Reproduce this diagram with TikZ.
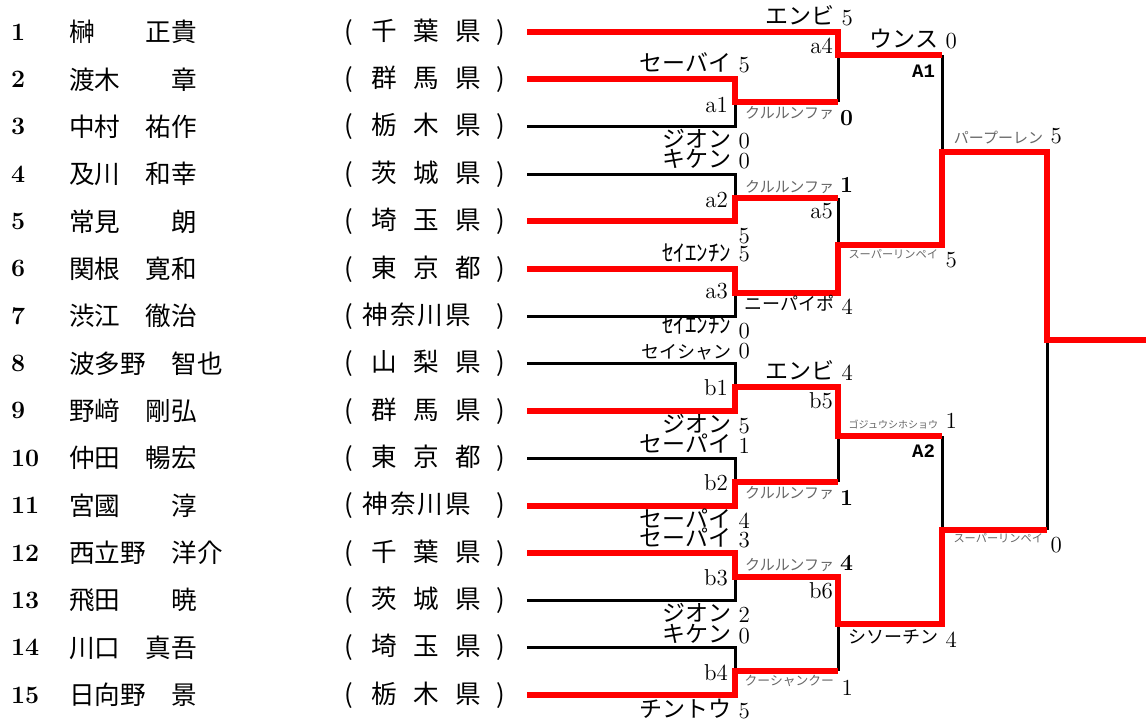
\documentclass[tikz,border=0pt]{standalone}
\usepackage{fontspec}
\usepackage{tikz}
\newfontfamily\jp{Noto Sans CJK JP}
\newfontfamily\mono{Liberation Mono}

\begin{document}
\begin{tikzpicture}[x=0.5pt, y=-0.5pt, every node/.style={inner sep=0pt, outer sep=0pt},
  win/.style={draw=red, line width=3pt},
  lose/.style={draw=black, line width=1.5pt},
  num/.style={anchor=west, font=\fontsize{12.5}{13}\selectfont\bfseries},
  entrant/.style={anchor=west, font=\jp\fontsize{12.8}{14}\selectfont},
  ken/.style={anchor=west, font=\jp\fontsize{12.8}{14}\selectfont},
  lab/.style={anchor=base east},
  score/.style={anchor=base east, font=\fontsize{11.5}{12}\selectfont},
  mlab/.style={anchor=base east, font=\fontsize{11.5}{12}\selectfont},
  Mlab/.style={anchor=base east, font=\mono\bfseries\fontsize{9.5}{10}\selectfont}]
  \useasboundingbox (0,0) rectangle (1146,724);

  \foreach \i/\nm/\pf/\k in {1/榊　　正貴/千\hfil 葉\hfil 県/3, 2/渡木　　章/群\hfil 馬\hfil 県/3,
      3/中村　祐作/栃\hfil 木\hfil 県/3, 4/及川　和幸/茨\hfil 城\hfil 県/3,
      5/常見　　朗/埼\hfil 玉\hfil 県/3, 6/関根　寛和/東\hfil 京\hfil 都/3,
      7/渋江　徹治/神\hfil 奈\hfil 川\hfil 県/4, 8/波多野　智也/山\hfil 梨\hfil 県/3,
      9/野﨑　剛弘/群\hfil 馬\hfil 県/3, 10/仲田　暢宏/東\hfil 京\hfil 都/3,
      11/宮國　　淳/神\hfil 奈\hfil 川\hfil 県/4, 12/西立野　洋介/千\hfil 葉\hfil 県/3,
      13/飛田　　暁/茨\hfil 城\hfil 県/3, 14/川口　真吾/埼\hfil 玉\hfil 県/3,
      15/日向野　景/栃\hfil 木\hfil 県/3}{
    \pgfmathsetmacro\y{32+47.36*(\i-1)}
    \ifnum\k=3 \def\kl{13.6pt}\def\kw{54.8pt}\def\kr{12.1pt}\else \def\kl{9.5pt}\def\kw{54pt}\def\kr{17pt}\fi
    \node[num] (no\i) at (11,\y) {\i};
    \node[entrant] (e\i) at (69,\y) {\nm};
    \node[ken] (p\i) at (344,\y) {\makebox[\kl][l]{(}\makebox[\kw][s]{\pf}\makebox[\kr][r]{)}};
    \coordinate (r\i) at (527,\y);
  }

  \coordinate (a1) at (735,102);
  \coordinate (a2) at (735,198);
  \coordinate (a3) at (735,293);
  \coordinate (b1) at (735,387);
  \coordinate (b2) at (735,482);
  \coordinate (b3) at (735,577);
  \coordinate (b4) at (735,671);
  \coordinate (a4) at (838,55);
  \coordinate (a5) at (838,245);
  \coordinate (b5) at (838,436);
  \coordinate (b6) at (838,624);
  \coordinate (A1) at (942,152);
  \coordinate (A2) at (942,530);
  \coordinate (F) at (1047,340);
  \coordinate (fin) at (1146,340);

  \draw[lose] (r3) -| (a1);
  \draw[lose] (a4) -- (a1 -| a4);
  \draw[lose] (r4) -| (a2);
  \draw[lose] (a5) -- (a2 -| a5);
  \draw[lose] (r7) -| (a3);
  \draw[lose] (a4 -| A1) -- (A1);
  \draw[lose] (r8) -| (b1);
  \draw[lose] (r10) -| (b2);
  \draw[lose] (b5) -- (b2 -| b5);
  \draw[lose] (r13) -| (b3);
  \draw[lose] (r14) -| (b4);
  \draw[lose] (b6) -- (b4 -| b6);
  \draw[lose] (b5 -| A2) -- (A2);
  \draw[lose] (F) -- (A2 -| F);

  \draw[win] (r1) -| (a4) -- (a4 -| A1);
  \draw[win] (r2) -| (a1) -- (a1 -| a4);
  \draw[win] (r5) -| (a2) -- (a2 -| a5);
  \draw[win] (r6) -| (a3) -- (a3 -| a5) -- (a5) -- (a5 -| A1) -- (A1) -| (F) -- (fin);
  \draw[win] (r9) -| (b1) -- (b1 -| b5) -- (b5) -- (b5 -| A2);
  \draw[win] (r11) -| (b2) -- (b2 -| b5);
  \draw[win] (r12) -| (b3) -- (b3 -| b6) -- (b6) -- (b6 -| A2) -- (A2) -- (A2 -| F);
  \draw[win] (r15) -| (b4) -- (b4 -| b6);

  \foreach \m/\x/\y in {a4/833/53, a1/728/112, a2/728/207, a5/833/218, a3/728/298,
      b1/728/395, b5/833/408, b2/728/490, b3/728/585, b6/833/598, b4/728/680}
    \node[mlab] (l\m) at (\x,\y) {\m};
  \node[Mlab] (lA1) at (935,77) {A1};
  \node[Mlab] (lA2) at (935,457) {A2};

  \foreach \id/\x/\yn/\ys/\fs/\tc/\tx/\sc in {
      1/853/24/25/11.5/black/エンビ/5, 2/957/47/48/11.5/black/ウンス/0,
      3/750/71/72/11.5/black/セーバイ/5, 4/853/118/125/7.5/black!60/クルルンファ/\textbf{0},
      5/750/147/148/11.5/black/ジオン/0, 6/750/167/168/11.5/black/キケン/0,
      7/853/192/192/7.5/black!60/クルルンファ/\textbf{1}, 9/750/261/261/11.5/black/ｾｲｴﾝﾁﾝ/5,
      10/853/310/314/9/black/ニーパイポ/4, 11/750/333/338/11.5/black/ｾｲｴﾝﾁﾝ/0,
      12/957/258/267/5.6/black!60/スーパーリンペイ/5, 13/1062/143/143/7.5/black!60/パープーレン/5,
      14/750/358/358/9/black/セイシャン/0, 15/853/379/380/11.5/black/エンビ/4,
      16/750/432/433/11.5/black/ジオン/5, 17/750/452/453/11.5/black/セーパイ/1,
      18/957/428/428/5/black!60/ゴジュウシホショウ/1, 19/853/498/505/7.5/black!60/クルルンファ/\textbf{1},
      20/750/527/528/11.5/black/セーパイ/4, 21/750/546/547/11.5/black/セーパイ/3,
      22/853/570/570/7.5/black!60/クルルンファ/\textbf{4}, 23/750/621/622/11.5/black/ジオン/2,
      24/750/642/643/11.5/black/キケン/0, 25/957/643/647/9/black/シソーチン/4,
      26/853/685/695/6.4/black!60/クーシャンクー/1, 27/750/717/718/11.5/black/チントウ/5,
      28/1062/542/552/5.6/black!60/スーパーリンペイ/0}{
    \node[lab, font=\jp\fontsize{\fs}{\fs}\selectfont, text=\tc] (n\id) at (\x-19,\yn) {\tx};
    \node[score] (t\id) at (\x,\ys) {\sc};
  }
  \node[score] (t8) at (750,243) {5};
\end{tikzpicture}
\end{document}
